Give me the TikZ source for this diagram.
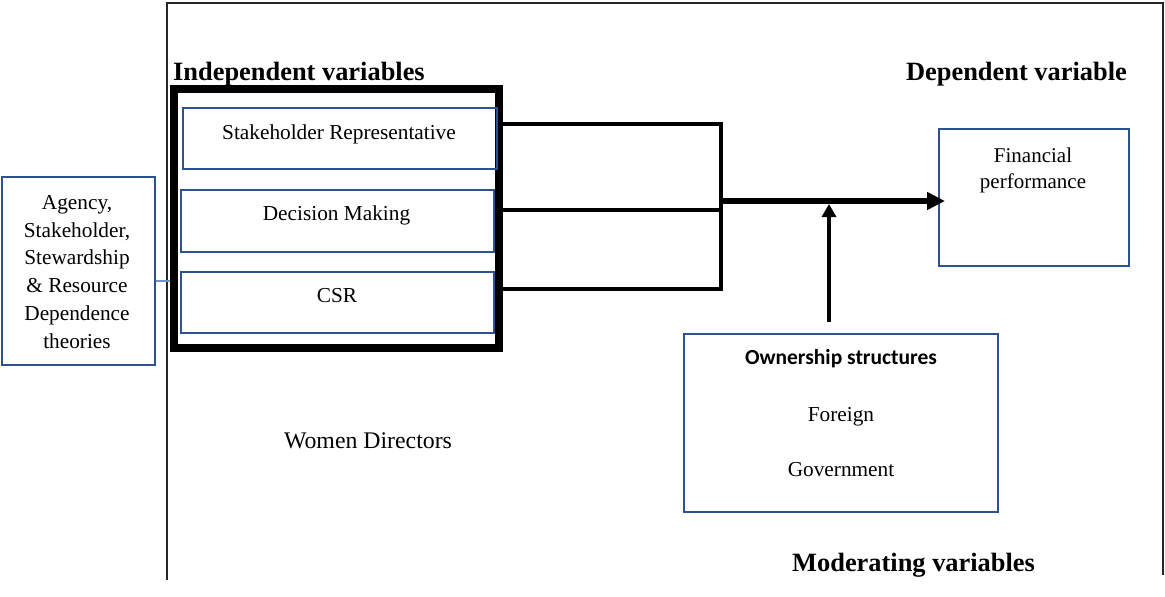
\documentclass[tikz,border=0pt]{standalone}
\usepackage{fontspec}
\setmainfont{Liberation Serif}
\newfontfamily\carl{Carlito}
\usetikzlibrary{arrows.meta}
\definecolor{bbl}{RGB}{47,82,143}
\definecolor{lbl}{RGB}{112,146,204}
\begin{document}
\begin{tikzpicture}[x=1pt,y=-1pt,
  blbox/.style={draw=bbl,line width=2pt,inner sep=0pt},
  txt/.style={font=\fontsize{21.3}{27.7}\selectfont,inner sep=0pt,anchor=base},
  headtxt/.style={font=\fontsize{26.4}{30}\selectfont\bfseries,inner sep=0pt,anchor=base},
  conn/.style={line width=4pt},
]
\useasboundingbox (0,0) rectangle (1165,597);
% frame
\draw[line width=1.3pt,black!85] (167,580) -- (167,3) -- (1163,3) -- (1163,575);

% headings
\node[headtxt,anchor=base west] (indep) at (173,80) {Independent variables};
\node[headtxt,anchor=base east] (dep) at (1127,80) {Dependent variable};
\node[headtxt,anchor=base west] (mod) at (792,571) {Moderating variables};

% thick group box
\node[draw,line width=8pt,inner sep=0pt,minimum width=325pt,minimum height=258.5pt] (thick) at (336.5,218.25) {};

% inner boxes
\node[blbox,minimum width=314pt,minimum height=61pt] (srbox) at (340,138.5) {};
\node[blbox,minimum width=313pt,minimum height=62pt] (dmbox) at (337.5,221) {};
\node[blbox,minimum width=313pt,minimum height=61pt] (csrbox) at (337,302.5) {};
\node[txt] (sr) at (339,139) {Stakeholder Representative};
\node[txt] (dm) at (336.5,220) {Decision Making};
\node[txt] (csr) at (337,302) {CSR};

\node[txt,font=\fontsize{23.8}{28}\selectfont] (women) at (368,448) {Women Directors};

% left theory box
\node[blbox,minimum width=153pt,minimum height=188pt] (theobox) at (78,271) {};
\node[txt,align=center] (theo) at (77,348) {Agency,\\Stakeholder,\\Stewardship\\\& Resource\\Dependence\\theories};
\coordinate (tl) at (theobox.east |- 0,281);
\coordinate (tr) at (thick.west |- 0,281);
\draw[lbl,line width=1.5pt] (tl) -- (tr);

% financial performance
\node[blbox,minimum width=190pt,minimum height=137pt] (finbox) at (1033.5,197.5) {};
\node[txt,align=center,font=\fontsize{21}{26}\selectfont] (fin) at (1033,188) {Financial\\performance};

% ownership
\node[blbox,minimum width=314pt,minimum height=178pt] (ownbox) at (841,422.5) {};
\node[txt,font=\fontsize{21.5}{26}\selectfont\carl\bfseries] (own) at (841,364) {Ownership structures};
\node[txt] (foreign) at (841,421) {Foreign};
\node[txt] (gov) at (841,476) {Government};

% connectors
\coordinate (a1) at (thick.east |- 0,124);
\coordinate (a2) at (721,124);
\coordinate (a3) at (721,289);
\coordinate (a4) at (thick.east |- 0,289);
\coordinate (m1) at (thick.east |- 0,210);
\coordinate (m2) at (721,210);
\coordinate (j) at (719,201);
\coordinate (tip) at (945,201);
\draw[conn,line join=miter] (a1) -- (a2) -- (a3) -- (a4);
\draw[conn] (m1) -- (m2);
\draw[line width=6pt,-{Triangle[length=18pt,width=17pt]}] (j) -- (tip);
\coordinate (v0) at (829,322);
\coordinate (v1) at (829,204);
\draw[line width=4pt,-{Triangle[length=13pt,width=14pt]}] (v0) -- (v1);
\end{tikzpicture}
\end{document}
